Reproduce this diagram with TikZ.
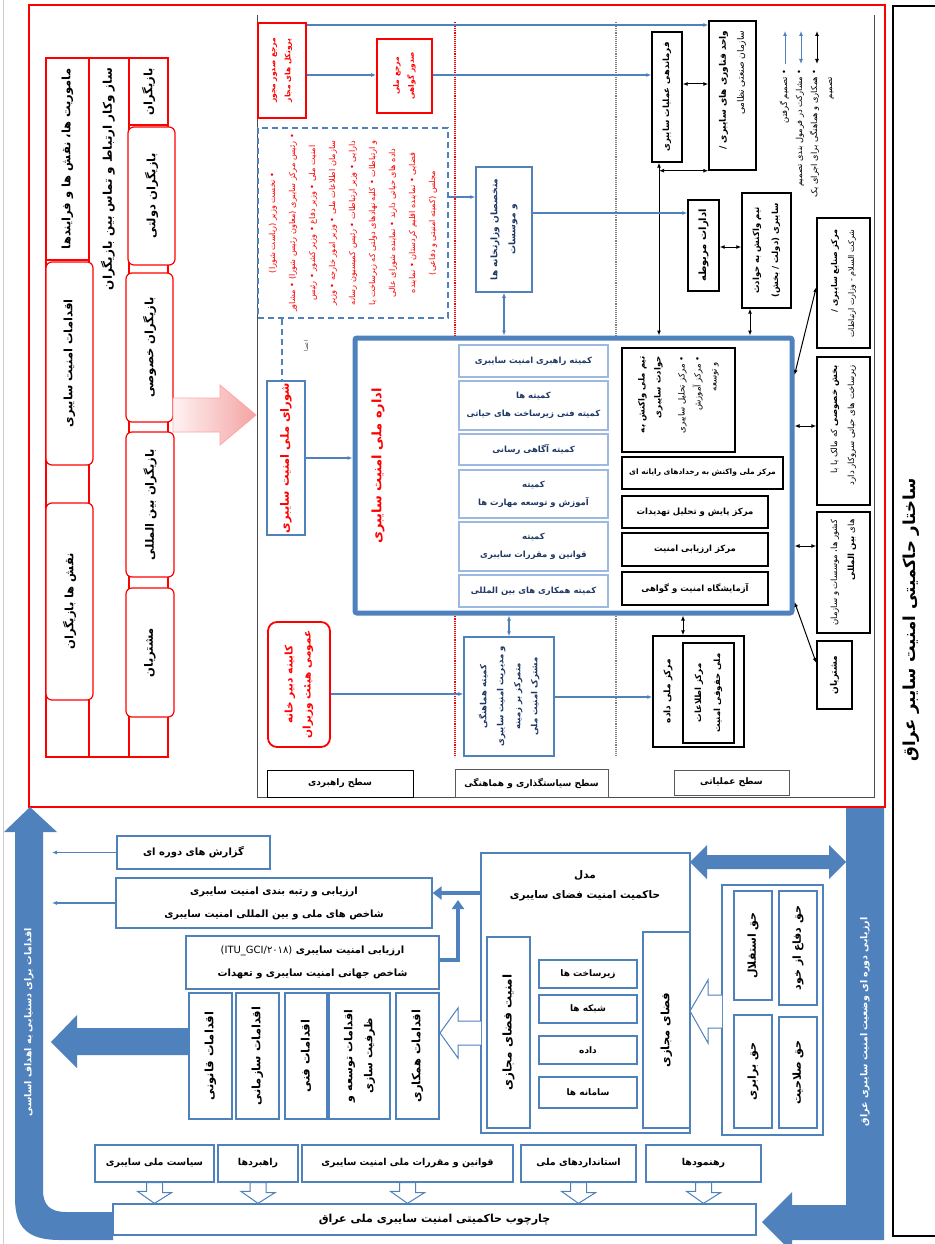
\documentclass[tikz,border=0pt]{standalone}
\usepackage{fontspec}
\newfontfamily\fa[Script=Arabic]{DejaVu Sans}
\TeXXeTstate=1
\usetikzlibrary{arrows.meta,calc}
\definecolor{ob}{HTML}{4F81BD}
\definecolor{navy}{HTML}{1F3864}
\definecolor{lbl}{HTML}{9DB9DF}
\definecolor{pk}{HTML}{F4A3A3}
\newcommand{\R}[1]{\beginR #1\endR}
\newcommand{\bx}[8]{%
  \pgfmathsetmacro\bxw{#5-#3}%
  \pgfmathsetmacro\bxh{#6-#4}%
  \pgfmathsetmacro\bxx{(#3+#5)/2}%
  \pgfmathsetmacro\bxy{(#4+#6)/2}%
  \node[#2, minimum width=\bxw pt, minimum height=\bxh pt] (#1) at (\bxx,\bxy) {};%
  \node[#7] (#1-t) at (#1.center) {#8};}
\newcommand{\hdown}[1]{%
  \draw[draw=ob, fill=white, line width=1pt] ($(#1.south)+(-8,0)$) -- ++(16,0) -- ++(0,10) -- ++(9,0) -- (#1.south |- BOT.north) -- ++(-17,-12) -- ++(9,0) -- cycle;}
\begin{document}
\begin{tikzpicture}[x=1pt, y=-1pt, >={Latex[length=5pt,width=4pt]},
  boxR/.style={draw=red, line width=1.2pt, fill=white, inner sep=0pt},
  boxRR/.style={boxR, rounded corners=6pt},
  boxB/.style={draw=ob, line width=1.3pt, fill=white, inner sep=0pt},
  boxLB/.style={draw=lbl, line width=2pt, fill=white, inner sep=0pt},
  boxK/.style={draw=black, line width=1.4pt, fill=white, inner sep=0pt},
  txR/.style={rotate=90, align=center, inner sep=0pt, font=\fa\bfseries\fontsize{11.5}{15}\selectfont},
  txRr/.style={txR, text=red},
  txRn/.style={txR, text=navy},
  txS/.style={rotate=90, align=center, inner sep=0pt, font=\fa\fontsize{8}{12}\selectfont},
  txH/.style={align=center, inner sep=0pt, font=\fa\bfseries\fontsize{8.5}{11}\selectfont},
  txHn/.style={txH, text=navy},
  arK/.style={draw=black, line width=1pt, <->},
  arB/.style={draw=ob, line width=1.3pt, ->},
  arBB/.style={draw=ob, line width=1.3pt, <->}]
\useasboundingbox (0,0) rectangle (934,1244);
\fill[white] (0,0) rectangle (934,1244);
\draw[gray!40, line width=0.6pt] (3,0) -- (3,1244);
% frames
\draw[red, line width=1.2pt] (29,5) rectangle (885,807);
\draw[black, line width=1.2pt] (945,6) -- (893,6) -- (893,1236) -- (945,1236);
\draw[gray!60!black, line width=0.8pt] (257,15) -- (257,797) -- (874,797) -- (874,15);
\draw[red, densely dotted, line width=1.1pt] (455,22) -- (455,757);
\draw[gray, densely dotted, line width=1.1pt] (616,22) -- (616,757);
\node[txR, font=\fa\bfseries\fontsize{16.5}{18}\selectfont] (title) at (911,620) {\R{ساختار حاکمیتی امنیت سایبر عراق}};
% left table
\draw[red, line width=1.2pt] (46,58) rectangle (89,757);
\draw[red, line width=1.2pt] (89,58) rectangle (129,757);
\draw[red, line width=1.2pt] (129,58) rectangle (168,757);
\bx{m1}{boxR}{46}{58}{89}{260}{txR}{\R{ماموریت ها، نقش ها و فرایندها}}
\node[txR, font=\fa\bfseries\fontsize{12}{15}\selectfont] (m2) at (108,179) {\R{ساز وکار ارتباط و تماس بین بازیگران}};
\bx{m3}{boxR}{129}{58}{168}{125}{txR}{\R{بازیگران}}
\bx{r1}{boxRR}{46}{262}{93}{465}{txR}{\R{اقدامات امنیت سایبری}}
\bx{r2}{boxRR}{46}{503}{93}{700}{txR}{\R{نقش ها بازیگران}}
\bx{r3}{boxRR}{128}{127}{175}{265}{txR}{\R{بازیگران دولتی}}
\bx{r4}{boxRR}{126}{273}{173}{422}{txR}{\R{بازیگران خصوصی}}
\bx{r5}{boxRR}{126}{432}{174}{577}{txR}{\R{بازیگران بین المللی}}
\bx{r6}{boxRR}{126}{588}{174}{717}{txR}{\R{مشتریان}}
\shade[left color=red!5, right color=pk, draw=red!35, line width=0.8pt] (173,398) -- (220,398) -- (220,385) -- (256,415) -- (220,445) -- (220,432) -- (173,432) -- cycle;
% column headers
\bx{h1}{boxK, line width=0.8pt}{267}{770}{413}{797}{txH, font=\fa\bfseries\fontsize{9}{11}\selectfont}{\R{سطح راهبردی}}
\bx{h2}{boxK, line width=0.8pt, draw=gray!70!black}{455}{769}{608}{797}{txH, font=\fa\bfseries\fontsize{9}{11}\selectfont}{\R{سطح سیاستگذاری و هماهنگی}}
\bx{h3}{boxK, line width=0.8pt, draw=gray!70!black}{674}{770}{789}{795}{txH, font=\fa\bfseries\fontsize{9}{11}\selectfont}{\R{سطح عملیاتی}}
% strategic column
\bx{A}{boxR, line width=1.8pt}{258}{23}{306}{118}{txRr, font=\fa\bfseries\fontsize{7.5}{15}\selectfont}{\R{مرجع صدور مجوز}\\\R{پروتکل های مجاز}}
\bx{B}{boxR, line width=1.8pt}{377}{39}{432}{113}{txRr, font=\fa\bfseries\fontsize{7.5}{15}\selectfont}{\R{مرجع ملی}\\\R{صدور گواهی}}
\bx{DB}{draw=ob, line width=1.5pt, dash pattern=on 6pt off 4pt, fill=white, inner sep=0pt}{258}{128}{448}{318}{txS, text=red, font=\fa\fontsize{8.2}{20}\selectfont}{\R{• نخست وزیر (ریاست شورا)}\\\R{• رئیس مرکز سایبری (معاون رئیس شورا) • مشاور}\\\R{امنیت ملی • وزیر دفاع • وزیر کشور • رئیس}\\\R{سازمان اطلاعات ملی • وزیر امور خارجه • وزیر}\\\R{دارایی • وزیر ارتباطات • رئیس کمیسیون رسانه}\\\R{و ارتباطات • کلیه نهادهای دولتی که زیرساخت یا}\\\R{داده های حیاتی دارند • نماینده شورای عالی}\\\R{قضایی • نماینده اقلیم کردستان • نماینده}\\\R{مجلس (کمیته امنیتی و دفاعی)}}
\bx{SN}{boxB}{267}{381}{305}{535}{txRr}{\R{شورای ملی امنیت سایبری}}
\coordinate (dx) at (282,0);
\draw[draw=ob, line width=1.5pt, dash pattern=on 6pt off 4pt] (dx |- DB.south) -- (dx |- SN.north);
\node[txS, font=\fa\fontsize{5.5}{6}\selectfont, text=gray!60!black] (members) at (306,346) {\R{اعضا}};
\bx{CAB}{boxR, line width=1.8pt, rounded corners=9pt}{268}{622}{330}{747}{txRr, font=\fa\bfseries\fontsize{10.5}{18}\selectfont}{\R{کابینه دبیر خانه}\\\R{عمومی هیئت وزیران}}
% policy column
\bx{EX}{boxB, line width=1.5pt}{476}{167}{532}{292}{txRn, font=\fa\bfseries\fontsize{9}{18}\selectfont}{\R{متخصصان وزارتخانه ها}\\\R{و موسسات}}
\bx{COORD}{boxB, line width=1.5pt}{464}{637}{554}{756}{txRn, font=\fa\bfseries\fontsize{8.5}{17}\selectfont}{\R{کمیته هماهنگی}\\\R{و مدیریت امنیت سایبری}\\\R{متمرکز بر زمینه}\\\R{مشترک امنیت ملی}}
% big box
\bx{BIG}{draw=ob, line width=5pt, fill=white, rounded corners=2pt, inner sep=0pt}{355}{338}{792}{613}{}{}
\node[txRr, font=\fa\bfseries\fontsize{13}{15}\selectfont] (BIGt) at (378,466) {\R{اداره ملی امنیت سایبری}};
\bx{b1}{boxLB}{459}{345}{608}{377}{txHn}{\R{کمیته راهبری امنیت سایبری}}
\bx{b2}{boxLB}{459}{381}{608}{430}{txHn, font=\fa\bfseries\fontsize{8.5}{18}\selectfont}{\R{کمیته ها}\\\R{کمیته فنی زیرساخت های حیاتی}}
\bx{b3}{boxLB}{459}{434}{608}{465}{txHn}{\R{کمیته آگاهی رسانی}}
\bx{b4}{boxLB}{459}{470}{608}{518}{txHn, font=\fa\bfseries\fontsize{8.5}{18}\selectfont}{\R{کمیته}\\\R{آموزش و توسعه مهارت ها}}
\bx{b5}{boxLB}{459}{522}{608}{571}{txHn, font=\fa\bfseries\fontsize{8.5}{18}\selectfont}{\R{کمیته}\\\R{قوانین و مقررات سایبری}}
\bx{b6}{boxLB}{459}{575}{608}{607}{txHn}{\R{کمیته همکاری های بین المللی}}
\bx{k1}{boxK}{622}{348}{735}{452}{}{}
\node[txS, anchor=east, align=right, font=\fa\fontsize{8.5}{16}\selectfont] (k1t) at ($(k1.north)+(0,9)$) {{\bfseries\R{تیم ملی واکنش به}}\\{\bfseries\R{حوادث سایبری}}\\[8pt]\R{• مرکز تحلیل سایبری}\\\R{• مرکز آموزش}\\\R{\ \ و توسعه}};
\bx{k2}{boxK}{622}{457}{783}{489}{txH, font=\fa\bfseries\fontsize{7.5}{11}\selectfont}{\R{مرکز ملی واکنش به رخدادهای رایانه ای}}
\bx{k3}{boxK}{622}{496}{768}{528}{txH}{\R{مرکز پایش و تحلیل تهدیدات}}
\bx{k4}{boxK}{622}{533}{768}{566}{txH}{\R{مرکز ارزیابی امنیت}}
\bx{k5}{boxK}{622}{572}{768}{605}{txH}{\R{آزمایشگاه امنیت و گواهی}}
% operational column
\bx{C}{boxK}{652}{32}{682}{162}{txR, font=\fa\bfseries\fontsize{8.5}{12}\selectfont}{\R{فرماندهی عملیات سایبری}}
\bx{D}{boxK}{709}{21}{756}{170}{}{}
\node[txS, anchor=east, align=right, font=\fa\fontsize{9}{18}\selectfont] (Dt) at ($(D.north)+(0,10)$) {{\bfseries\R{واحد فناوری های سایبری /}}\\\R{سازمان صنعتی نظامی}};
\bx{ADR}{boxK}{688}{200}{719}{291}{txR, font=\fa\bfseries\fontsize{10}{12}\selectfont}{\R{ادارات مربوطه}}
\bx{TEAM}{boxK}{742}{193}{791}{308}{txR, font=\fa\bfseries\fontsize{8.5}{19}\selectfont}{\R{تیم واکنش به حوادث}\\\R{سایبری (دولت / بخش)}}
\bx{IND}{boxK}{817}{218}{870}{348}{}{}
\node[txS, anchor=east, align=right, font=\fa\fontsize{8}{17}\selectfont] (INDt) at ($(IND.north)+(0,12)$) {{\bfseries\R{مرکز صنایع سایبری /}}\\\R{شرکت السلام - وزارت ارتباطات}};
\bx{PRIV}{boxK}{817}{357}{870}{505}{}{}
\node[txS, anchor=east, align=right, font=\fa\fontsize{8.5}{17}\selectfont] (PRIVt) at ($(PRIV.north)+(0,9)$) {\R{{\bfseries بخش خصوصی} که مالک یا با}\\\R{زیرساخت های حیاتی سروکار دارد}};
\bx{INTL}{boxK}{817}{512}{870}{633}{}{}
\node[txS, anchor=east, align=right, font=\fa\fontsize{8.5}{17}\selectfont] (INTLt) at ($(INTL.north)+(0,8)$) {\R{کشور ها، موسسات و سازمان}\\\R{های {\bfseries بین المللی}}};
\bx{CUST}{boxK}{817}{641}{852}{709}{txR, font=\fa\bfseries\fontsize{9}{12}\selectfont}{\R{مشتریان}}
\bx{DATA}{boxK}{653}{636}{744}{747}{}{}
\node[txR, font=\fa\bfseries\fontsize{9}{12}\selectfont] (DATAt) at (668,691) {\R{مرکز ملی داده}};
\bx{DATA2}{boxK}{683}{643}{734}{743}{txR, font=\fa\bfseries\fontsize{8.5}{19}\selectfont}{\R{مرکز اطلاعات}\\\R{ملی حقوقی امنیت}}
% legend
\coordinate (g1a) at (785,64); \coordinate (g1b) at (785,31);
\coordinate (g2a) at (801,64); \coordinate (g2b) at (801,31);
\coordinate (g3a) at (817,64); \coordinate (g3b) at (817,31);
\draw[arB, line width=1pt] (g1a) -- (g1b);
\draw[arBB, line width=1pt] (g2a) -- (g2b);
\draw[arK] (g3a) -- (g3b);
\node[txS, anchor=east, align=right, font=\fa\fontsize{8.3}{15}\selectfont] (legend) at (807,69) {\R{• تصمیم گرفتن}\\\R{• مشارکت در فرمول بندی تصمیم}\\\R{• همکاری و هماهنگی برای اجرای یک}\\\R{\ \ \ تصمیم}};
% connectors upper part
\coordinate (yA) at (0,25); \coordinate (yB) at (0,75); \coordinate (yCD) at (0,84);
\draw[arB] (A.east |- yA) -- (D.west |- yA);
\draw[arB] (A.east |- yB) -- (B.west |- yB);
\draw[arB] (B.east |- yB) -- (C.west |- yB);
\draw[arK] (C.east |- yCD) -- (D.west |- yCD);
\coordinate (v1) at (659,0);
\draw[arK] (v1 |- C.south) -- (v1 |- BIG.north);
\draw[arK] (v1 |- D.south) -- (D.south west);
\coordinate (yE) at (0,197); \coordinate (yF) at (0,213); \coordinate (yG) at (0,247);
\draw[arB] (DB.east |- yE) -- (EX.west |- yE);
\draw[arBB] (EX.south) -- (EX.south |- BIG.north);
\draw[arB] (EX.east |- yF) -- (ADR.west |- yF);
\draw[arK] (ADR.east |- yG) -- (TEAM.west |- yG);
\coordinate (v2) at (750,0);
\draw[arK] (v2 |- TEAM.south) -- (v2 |- BIG.north);
\coordinate (yH) at (0,287); \coordinate (yI) at (0,375);
\draw[arK] (IND.west |- yH) -- (BIG.east |- yI);
\coordinate (yJ) at (0,426); \coordinate (yK) at (0,546);
\draw[arK] (BIG.east |- yJ) -- (PRIV.west |- yJ);
\draw[arK] (BIG.east |- yK) -- (INTL.west |- yK);
\coordinate (yL) at (0,602); \coordinate (yM) at (0,663);
\draw[arK] (BIG.east |- yL) -- (CUST.west |- yM);
\draw[arB, line width=2pt] (SN.east) -- (SN.east -| BIG.west);
\coordinate (yN) at (0,694); \coordinate (yO) at (0,697);
\draw[arB] (CAB.east |- yN) -- (COORD.west |- yN);
\draw[arBB] (COORD.north) -- (COORD.north |- BIG.south);
\draw[arB] (COORD.east |- yO) -- (DATA.west |- yO);
\coordinate (v3) at (683,0);
\draw[arK] (v3 |- BIG.south) -- (v3 |- DATA.north);
% ===== lower part =====
\fill[ob] (43,832) -- (57,832) -- (30,807) -- (4,832) -- (15,832) -- (15,1198) .. controls (15,1228) and (28,1240) .. (60,1240) -- (113,1240) -- (113,1212) -- (66,1212) .. controls (50,1212) and (43,1205) .. (43,1190) -- cycle;
\node[txR, text=white, font=\fa\bfseries\fontsize{9.5}{12}\selectfont] (leftband) at (29,1022) {\R{اقدامات برای دستیابی به اهداف اساسی}};
\fill[ob] (846,808) -- (884,808) -- (884,1240) -- (792,1240) -- (792,1252) -- (762,1222) -- (792,1192) -- (792,1205) -- (846,1205) -- cycle;
\node[txR, text=white, font=\fa\bfseries\fontsize{9.5}{12}\selectfont] (rightband) at (865,1022) {\R{ارزیابی دوره ای وضعیت امنیت سایبری عراق}};
\bx{BOT}{boxB}{113}{1204}{756}{1235}{txH, font=\fa\bfseries\fontsize{11}{13}\selectfont}{\R{چارچوب حاکمیتی امنیت سایبری ملی عراق}}
\bx{p1}{boxB}{95}{1145}{214}{1182}{txH, font=\fa\bfseries\fontsize{9.5}{11}\selectfont}{\R{سیاست ملی سایبری}}
\bx{p2}{boxB}{218}{1145}{298}{1182}{txH, font=\fa\bfseries\fontsize{9.5}{11}\selectfont}{\R{راهبردها}}
\bx{p3}{boxB}{302}{1145}{513}{1182}{txH, font=\fa\bfseries\fontsize{9.5}{11}\selectfont}{\R{قوانین و مقررات ملی امنیت سایبری}}
\bx{p4}{boxB}{521}{1145}{636}{1182}{txH, font=\fa\bfseries\fontsize{9.5}{11}\selectfont}{\R{استانداردهای ملی}}
\bx{p5}{boxB}{646}{1145}{761}{1182}{txH, font=\fa\bfseries\fontsize{9.5}{11}\selectfont}{\R{رهنمودها}}
\hdown{p1}\hdown{p2}\hdown{p3}\hdown{p4}\hdown{p5}
\bx{RIGHTS}{boxB}{722}{885}{823}{1135}{}{}
\bx{q1}{boxB}{734}{891}{772}{1000}{txR, font=\fa\bfseries\fontsize{11}{13}\selectfont}{\R{حق استقلال}}
\bx{q2}{boxB}{779}{891}{817}{1005}{txR, font=\fa\bfseries\fontsize{11}{13}\selectfont}{\R{حق دفاع از خود}}
\bx{q3}{boxB}{734}{1015}{772}{1128}{txR, font=\fa\bfseries\fontsize{11}{13}\selectfont}{\R{حق برابری}}
\bx{q4}{boxB}{779}{1017}{817}{1128}{txR, font=\fa\bfseries\fontsize{11}{13}\selectfont}{\R{حق صلاحیت}}
\bx{CENTER}{boxB}{481}{853}{690}{1133}{}{}
\node[txH, font=\fa\bfseries\fontsize{10.5}{20}\selectfont] (CENTERt) at (585,886) {\R{مدل}\\\R{حاکمیت امنیت فضای سایبری}};
\bx{SPACE}{boxB}{643}{932}{690}{1128}{txR}{\R{فضای مجازی}}
\bx{SEC}{boxB}{487}{937}{530}{1128}{txR, font=\fa\bfseries\fontsize{12}{15}\selectfont}{\R{امنیت فضای مجازی}}
\bx{s1}{boxB}{539}{960}{637}{988}{txH, font=\fa\bfseries\fontsize{9}{11}\selectfont}{\R{زیرساخت ها}}
\bx{s2}{boxB}{539}{995}{637}{1023}{txH, font=\fa\bfseries\fontsize{9}{11}\selectfont}{\R{شبکه ها}}
\bx{s3}{boxB}{539}{1036}{637}{1064}{txH, font=\fa\bfseries\fontsize{9}{11}\selectfont}{\R{داده}}
\bx{s4}{boxB}{539}{1077}{637}{1108}{txH, font=\fa\bfseries\fontsize{9}{11}\selectfont}{\R{سامانه ها}}
\draw[draw=ob, fill=white, line width=1pt] (722,995) -- (708,995) -- (708,980) -- (690,1011) -- (708,1043) -- (708,1028) -- (722,1028);
\draw[draw=ob, fill=white, line width=1pt] (481,1021) -- (458,1021) -- (458,1008) -- (440,1033) -- (458,1058) -- (458,1045) -- (481,1045);
\fill[ob] (690,862) -- (707,845) -- (707,855) -- (829,855) -- (829,845) -- (846,862) -- (829,879) -- (829,869) -- (707,869) -- (707,879) -- cycle;
\bx{a1}{boxB}{189}{993}{232}{1119}{txR}{\R{اقدامات قانونی}}
\bx{a2}{boxB}{236}{993}{279}{1119}{txR}{\R{اقدامات سازمانی}}
\bx{a3}{boxB}{285}{993}{327}{1119}{txR}{\R{اقدامات فنی}}
\bx{a4}{boxB}{329}{993}{390}{1119}{txR, font=\fa\bfseries\fontsize{11}{20}\selectfont}{\R{اقدامات توسعه و}\\\R{ظرفیت سازی}}
\bx{a5}{boxB}{396}{993}{439}{1119}{txR}{\R{اقدامات همکاری}}
\fill[ob] (189,1028) -- (77,1028) -- (77,1015) -- (51,1042) -- (77,1068) -- (77,1055) -- (189,1055) -- cycle;
\bx{ITU}{boxB}{186}{936}{439}{989}{txH, font=\fa\bfseries\fontsize{10}{23}\selectfont}{\R{ارزیابی امنیت سایبری {\mdseries\beginL(ITU\_GCI/۲۰۱۸)\endL}}\\\R{شاخص جهانی امنیت سایبری و تعهدات}}
\bx{L1}{boxB}{116}{878}{432}{928}{txH, font=\fa\bfseries\fontsize{10}{23}\selectfont}{\R{ارزیابی و رتبه بندی امنیت سایبری}\\\R{شاخص های ملی و بین المللی امنیت سایبری}}
\bx{L0}{boxB}{117}{836}{270}{869}{txH, font=\fa\bfseries\fontsize{10}{12}\selectfont}{\R{گزارش های دوره ای}}
\coordinate (yP) at (0,893); \coordinate (yQ) at (0,960); \coordinate (vx) at (458,0); \coordinate (yR) at (0,900);
\draw[draw=ob, line width=4pt, -{Triangle[length=9pt,width=13pt]}] (CENTER.west |- yP) -- (L1.east |- yP);
\draw[draw=ob, line width=4pt, -{Triangle[length=9pt,width=12pt]}] (ITU.east |- yQ) -| (vx |- yR);
\coordinate (bandx) at (52,0);
\draw[arB, line width=1.5pt] (L0.west) -- (L0.west -| bandx);
\draw[arB, line width=1.5pt] (L1.west) -- (L1.west -| bandx);
\end{tikzpicture}
\end{document}
